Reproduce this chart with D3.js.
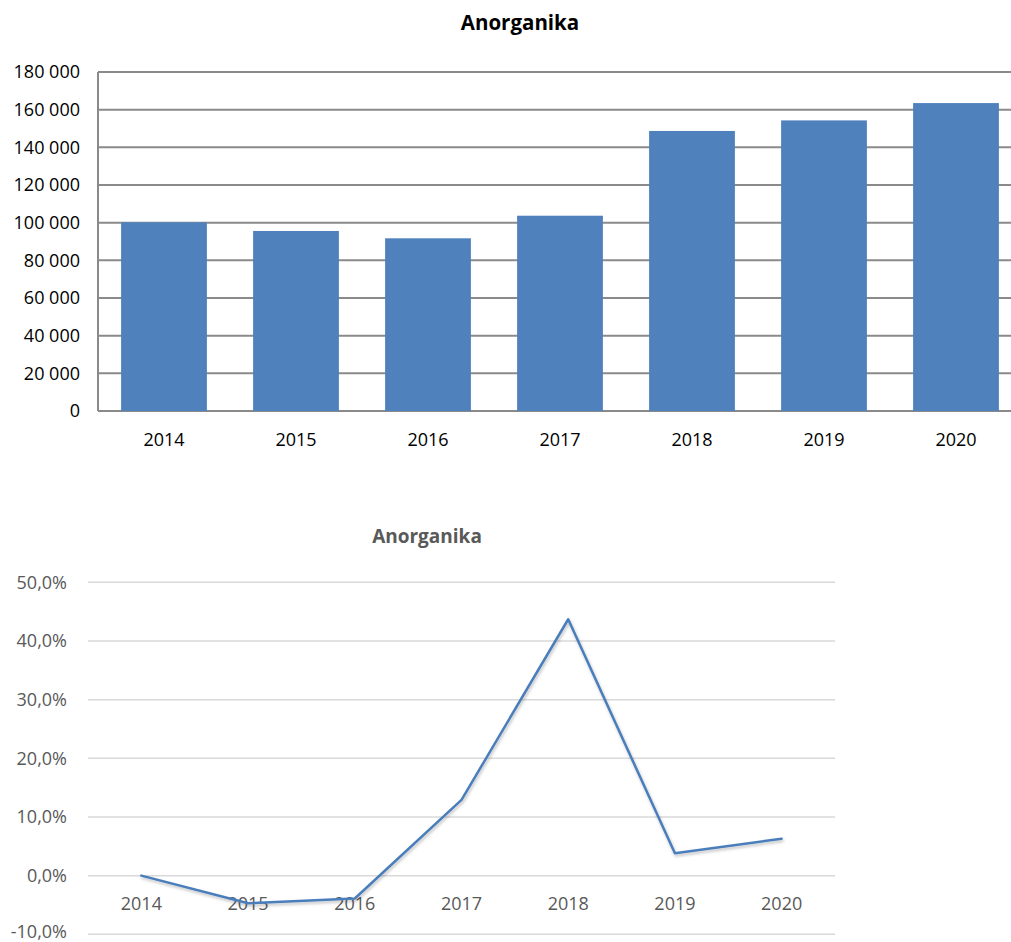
<!DOCTYPE html>
<html>
<head>
<meta charset="utf-8">
<script src="https://cdn.jsdelivr.net/npm/d3@7"></script>
<style>
  html, body { margin: 0; padding: 0; background: #ffffff; }
  svg { display: block; }
  text { font-family: "Open Sans", "Liberation Sans", sans-serif; }
</style>
</head>
<body>
<script>
// ---- data ----
const years = ["2014", "2015", "2016", "2017", "2018", "2019", "2020"];
const volumes = [100200, 95600, 91700, 103700, 148700, 154300, 163500];
const growthPct = [0.0, -4.7, -3.9, 12.9, 43.7, 3.8, 6.3];
const barTicks = [0, 20000, 40000, 60000, 80000, 100000, 120000, 140000, 160000, 180000];
const pctTicks = [-10, 0, 10, 20, 30, 40, 50];
const chartTitle = "Anorganika";

(function () {
const W = 1011, H = 942;
const svg = d3.select("body").append("svg").attr("width", W).attr("height", H);

const loc = d3.formatLocale({ decimal: ",", thousands: "\u00a0", grouping: [3], currency: ["", ""], minus: "-" });
const fmtNum = loc.format(",d");
const fmtPct = v => loc.format(".1f")(v) + "%";

// ---- top: bar chart ----
const m1 = { left: 98, right: 1022, top: 72, bottom: 411 };
const xb = d3.scaleBand().domain(years).range([m1.left, m1.right]).paddingInner(0.35).paddingOuter(0.175);
const yb = d3.scaleLinear().domain([0, 180000]).range([m1.bottom, m1.top]);

const gTop = svg.append("g");
gTop.append("text").attr("x", 520).attr("y", 30).attr("text-anchor", "middle")
  .attr("font-size", 20.5).attr("font-weight", 700).attr("fill", "#000").text(chartTitle);

gTop.append("g").selectAll("line").data(barTicks).join("line")
  .attr("x1", m1.left).attr("x2", m1.right)
  .attr("y1", d => yb(d)).attr("y2", d => yb(d))
  .attr("stroke", "#8a8a8a").attr("stroke-width", 2);
gTop.append("line").attr("x1", m1.left).attr("x2", m1.left)
  .attr("y1", m1.top).attr("y2", m1.bottom).attr("stroke", "#8a8a8a").attr("stroke-width", 2);

const yAxisTop = d3.axisLeft(yb).tickValues(barTicks).tickFormat(fmtNum).tickSize(0).tickPadding(18);
const gy = gTop.append("g").attr("transform", `translate(${m1.left},0)`).call(yAxisTop);
gy.select(".domain").remove();
gy.selectAll("text").attr("font-size", 18).attr("fill", "#000").attr("font-family", "Open Sans");

gTop.append("g").selectAll("rect").data(years).join("rect")
  .attr("x", d => xb(d)).attr("width", xb.bandwidth())
  .attr("y", (d, i) => yb(volumes[i])).attr("height", (d, i) => yb(0) - yb(volumes[i]))
  .attr("fill", "#4f81bd");

const xAxisTop = d3.axisBottom(xb).tickSize(0).tickPadding(22);
const gx = gTop.append("g").attr("transform", `translate(0,${m1.bottom})`).call(xAxisTop);
gx.select(".domain").remove();
gx.selectAll("text").attr("font-size", 18).attr("fill", "#000").attr("font-family", "Open Sans");

// ---- bottom: line chart ----
const m2 = { left: 88, right: 835, top: 582.3, bottom: 934.3 };
const xl = d3.scaleBand().domain(years).range([m2.left, m2.right]);
const yl = d3.scaleLinear().domain([-10, 50]).range([m2.bottom, m2.top]);

const gBot = svg.append("g");
gBot.append("text").attr("x", 427).attr("y", 543).attr("text-anchor", "middle")
  .attr("font-size", 19).attr("font-weight", 700).attr("fill", "#595959").text(chartTitle);

gBot.append("g").selectAll("line").data(pctTicks).join("line")
  .attr("x1", m2.left).attr("x2", m2.right)
  .attr("y1", d => yl(d)).attr("y2", d => yl(d))
  .attr("stroke", "#d9d9d9").attr("stroke-width", 1.5);

const yAxisBot = d3.axisLeft(yl).tickValues(pctTicks).tickFormat(fmtPct).tickSize(0).tickPadding(21);
const gy2 = gBot.append("g").attr("transform", `translate(${m2.left},0)`).call(yAxisBot);
gy2.select(".domain").remove();
gy2.selectAll("text").attr("font-size", 18).attr("fill", "#595959").attr("font-family", "Open Sans")
  .attr("dy", d => d === pctTicks[0] ? "0.2em" : "0.32em");

const xAxisBot = d3.axisBottom(xl).tickSize(0).tickPadding(22);
const gx2 = gBot.append("g").attr("transform", `translate(0,${yl(0)})`).call(xAxisBot);
gx2.select(".domain").remove();
gx2.selectAll("text").attr("font-size", 18).attr("fill", "#595959").attr("font-family", "Open Sans");

const defs = svg.append("defs");
const f = defs.append("filter").attr("id", "sh").attr("x", "-10%").attr("y", "-10%").attr("width", "120%").attr("height", "130%");
f.append("feDropShadow").attr("dx", 1).attr("dy", 2).attr("stdDeviation", 1.5).attr("flood-color", "#000").attr("flood-opacity", 0.25);

const line = d3.line()
  .x((d, i) => xl(years[i]) + xl.bandwidth() / 2)
  .y(d => yl(d));
gBot.append("path").datum(growthPct)
  .attr("d", line).attr("fill", "none")
  .attr("stroke", "#4a7ebb").attr("stroke-width", 2.5)
  .attr("stroke-linejoin", "round").attr("stroke-linecap", "round")
  .attr("filter", "url(#sh)");
})();
</script>
</body>
</html>
